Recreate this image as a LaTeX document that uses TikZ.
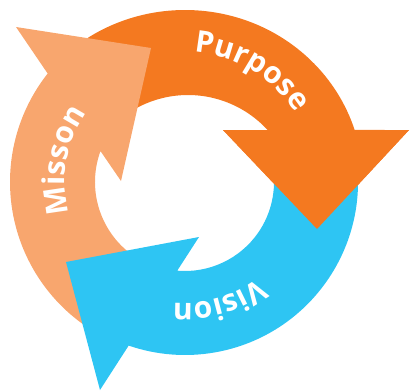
\documentclass[tikz,border=0pt]{standalone}
\usepackage{fontspec}
\setmainfont{Open Sans}
\usetikzlibrary{calc,decorations.text}

\definecolor{purposeorange}{HTML}{F47920}
\definecolor{missionpeach}{HTML}{F8A66E}
\definecolor{visionblue}{HTML}{2EC5F3}

\tikzset{
  cycletext/.style={decorate, decoration={text along path, text align=center,
      text color=white, text={|\bfseries\fontsize{30}{30}\selectfont|#1}}}
}

\begin{document}
\begin{tikzpicture}[x=1pt,y=-1pt]
    \useasboundingbox (0,0) rectangle (410,391);
    \coordinate (c) at (185,182);
    \coordinate (ci) at (188,203);
    % Purpose
    \fill[purposeorange] ($(c)+(-135:178 and 172)$)
        arc[start angle=-135, end angle=-17.6, x radius=178, y radius=172]
        -- (409,130) coordinate (pr) -- (317,229) coordinate (pt) -- (223,130) coordinate (pl)
        -- ($(ci)+(-42.5:108)$) arc[start angle=-42.5, end angle=-135, radius=108] -- cycle;
    % Misson
    \fill[missionpeach] ($(c)+(120:175)$)
        arc[start angle=120, end angle=218.3, radius=175]
        -- (16,27) -- (151,48) -- (121,181)
        -- ($(c)+(200.1:90)$) arc[start angle=200.1, end angle=120, radius=90] -- cycle;
    % Vision
    \fill[visionblue] ($(c)+(-10:173)$)
        arc[start angle=-10, end angle=109, radius=173]
        -- (100,390) -- (66,262) -- (199,237)
        -- ($(c)+(95:89)$) arc[start angle=95, end angle=-10, radius=89] -- cycle;
    % head of Purpose lies over the tail of Vision
    \fill[purposeorange] (pr) -- (pt) -- (pl) -- cycle;
    % labels
    \path[cycletext=Purpose] ($(c)+(-100:130)$) arc[start angle=-100, end angle=-18, radius=130];
    \path[cycletext=Vision] ($(c)+(40:121)$) arc[start angle=40, end angle=108, radius=121];
    \path[cycletext=Misson] ($(c)+(150:120)$) arc[start angle=150, end angle=230, radius=120];
\end{tikzpicture}
\end{document}
